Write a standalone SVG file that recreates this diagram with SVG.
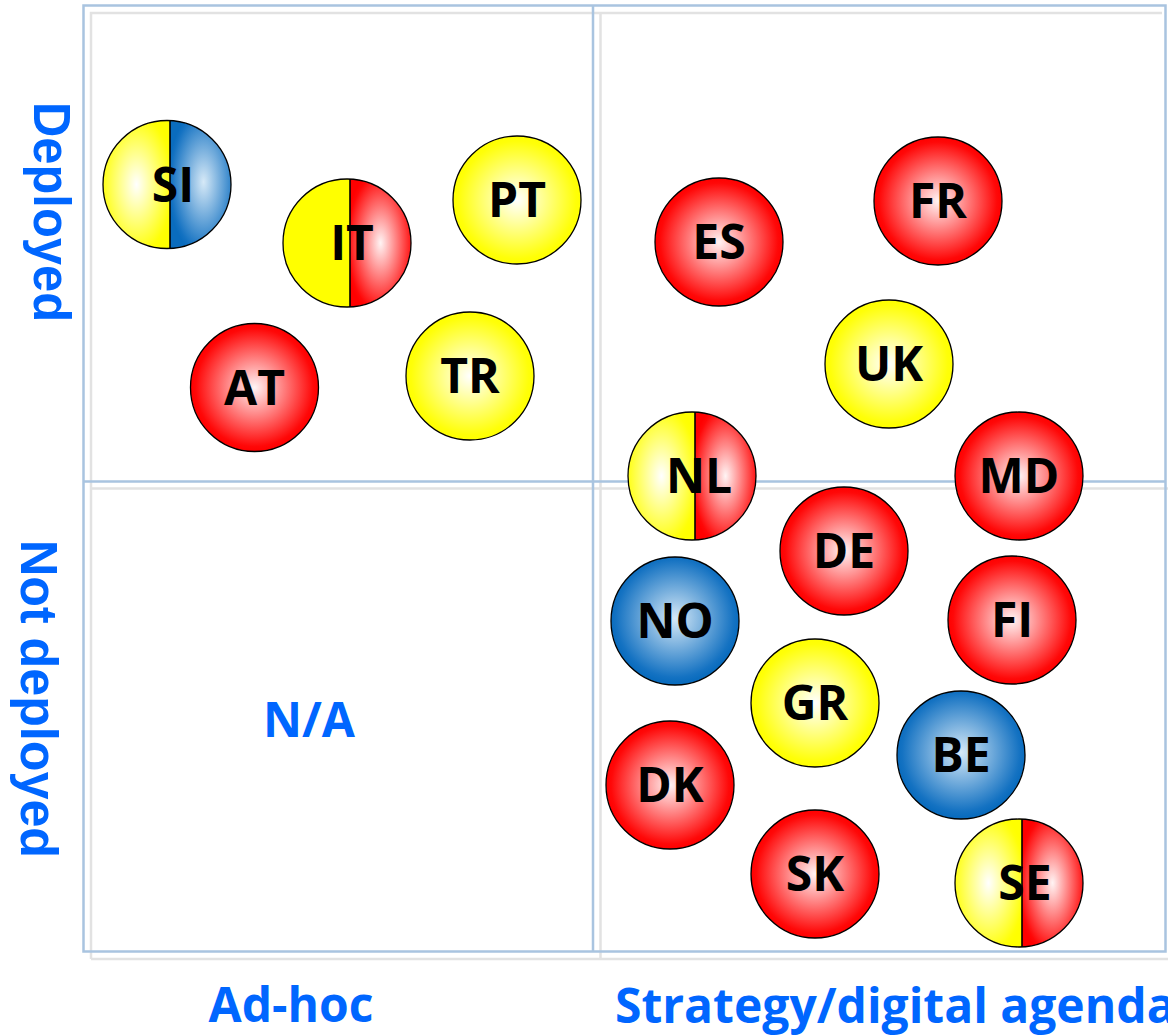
<svg xmlns="http://www.w3.org/2000/svg" width="1168" height="1036" viewBox="0 0 1168 1036">
  <style>
    .frame { fill: none; stroke: #a9c4e0; stroke-width: 2.5; }
    .shadow { fill: none; stroke: #e2e2e2; stroke-width: 2.5; }
    .ring { fill: none; stroke: #000; stroke-width: 1.3; }
    .disc { stroke: #000; stroke-width: 1.3; }
    .r { fill: url(#red); }
    .y { fill: url(#yellow); }
    .b { fill: url(#blue); }
    .split { stroke: #000; stroke-width: 1.6; }
    .code { font-family: "Open Sans", "Liberation Sans", sans-serif; font-weight: 700; font-size: 48px; fill: #000; text-anchor: middle; }
    .axis { font-family: "Open Sans", "Liberation Sans", sans-serif; font-weight: 700; font-size: 48px; fill: #0066ff; }
    .side { font-family: "Liberation Sans", Arial, sans-serif; font-weight: 700; font-size: 52px; fill: #0066ff; text-anchor: middle; }
  </style>
  <defs>
    <radialGradient id="red" cx="0.5" cy="0.5" r="0.5">
      <stop offset="0" stop-color="#fff4f4"/>
      <stop offset="0.92" stop-color="#ff0808"/>
      <stop offset="1" stop-color="#ff0000"/>
    </radialGradient>
    <radialGradient id="yellow" cx="0.5" cy="0.5" r="0.5">
      <stop offset="0" stop-color="#ffffff"/>
      <stop offset="0.92" stop-color="#ffff08"/>
      <stop offset="1" stop-color="#ffff00"/>
    </radialGradient>
    <radialGradient id="blue" cx="0.5" cy="0.48" r="0.5">
      <stop offset="0" stop-color="#d6e9f7"/>
      <stop offset="0.92" stop-color="#1472c2"/>
      <stop offset="1" stop-color="#0a6cbe"/>
    </radialGradient>
    <!-- half-disc shading: a little wider so the narrow halves keep a soft highlight -->
    <radialGradient id="redHalf" href="#red" cx="0.5" cy="0.5" r="0.58"/>
    <radialGradient id="yellowHalf" href="#yellow" cx="0.5" cy="0.5" r="0.58"/>
    <radialGradient id="blueHalf" href="#blue" cx="0.55" cy="0.48" r="0.58"/>
  </defs>

  <rect width="1168" height="1036" fill="#fff"/>

  <!-- quadrant grid: soft grey offset copy under the blue frame -->
  <g id="grid">
    <path class="shadow" d="M91,959 V13 H1162 M91,959 H1168 M600.5,13 V959 M91,488.5 H1168"/>
    <path class="frame" d="M83.5,5.5 H1165.5 V951.5 H83.5 Z M593,5.5 V951.5 M83.5,481.5 H1165.5"/>
  </g>

  <!-- axis labels -->
  <g id="labels">
    <text class="side" transform="translate(34,212) rotate(90)" textLength="220" lengthAdjust="spacingAndGlyphs">Deployed</text>
    <text class="side" transform="translate(21,699) rotate(90)" textLength="318" lengthAdjust="spacingAndGlyphs">Not deployed</text>
    <text class="axis" x="291" y="1022" text-anchor="middle">Ad-hoc</text>
    <text class="axis" x="615" y="1023">Strategy/digital agenda</text>
    <text class="axis" x="309" y="737" text-anchor="middle">N/A</text>
  </g>

  <!-- split nodes: two colours either side of a divider -->
  <g id="node-SI">
    <path d="M170,248.43 A64,64 0 1 1 170,120.57 Z" fill="url(#yellowHalf)"/>
    <path d="M170,120.57 A64,64 0 0 1 170,248.43 Z" fill="url(#blueHalf)"/>
    <line class="split" x1="170" y1="120.57" x2="170" y2="248.43"/>
    <circle class="ring" cx="167" cy="184.5" r="64"/>
    <text class="code" x="173" y="201.5">SI</text>
  </g>
  <g id="node-IT">
    <path d="M350,306.93 A64,64 0 1 1 350,179.07 Z" fill="#ffff00"/>
    <path d="M350,179.07 A64,64 0 0 1 350,306.93 Z" fill="url(#redHalf)"/>
    <line class="split" x1="350" y1="179.07" x2="350" y2="306.93"/>
    <circle class="ring" cx="347" cy="243" r="64"/>
    <text class="code" x="352" y="260">IT</text>
  </g>
  <g id="node-NL">
    <path d="M695,539.93 A64,64 0 1 1 695,412.07 Z" fill="url(#yellowHalf)"/>
    <path d="M695,412.07 A64,64 0 0 1 695,539.93 Z" fill="url(#redHalf)"/>
    <line class="split" x1="695" y1="412.07" x2="695" y2="539.93"/>
    <circle class="ring" cx="692" cy="476" r="64"/>
    <text class="code" x="699" y="493">NL</text>
  </g>
  <g id="node-SE">
    <path d="M1022,946.93 A64,64 0 1 1 1022,819.07 Z" fill="url(#yellowHalf)"/>
    <path d="M1022,819.07 A64,64 0 0 1 1022,946.93 Z" fill="url(#redHalf)"/>
    <line class="split" x1="1022" y1="819.07" x2="1022" y2="946.93"/>
    <circle class="ring" cx="1019" cy="883" r="64"/>
    <text class="code" x="1025" y="900">SE</text>
  </g>

  <!-- single-colour nodes -->
  <g id="node-PT"><circle class="disc y" cx="517" cy="200" r="64"/><text class="code" x="517" y="217">PT</text></g>
  <g id="node-AT"><circle class="disc r" cx="254.5" cy="387.5" r="64"/><text class="code" x="254.5" y="404.5">AT</text></g>
  <g id="node-TR"><circle class="disc y" cx="470" cy="376" r="64"/><text class="code" x="470" y="393">TR</text></g>
  <g id="node-ES"><circle class="disc r" cx="719" cy="242" r="64"/><text class="code" x="719" y="259">ES</text></g>
  <g id="node-FR"><circle class="disc r" cx="938" cy="201" r="64"/><text class="code" x="938" y="218">FR</text></g>
  <g id="node-UK"><circle class="disc y" cx="889" cy="364" r="64"/><text class="code" x="889" y="381">UK</text></g>
  <g id="node-MD"><circle class="disc r" cx="1019" cy="476" r="64"/><text class="code" x="1019" y="493">MD</text></g>
  <g id="node-DE"><circle class="disc r" cx="844" cy="551" r="64"/><text class="code" x="844" y="568">DE</text></g>
  <g id="node-NO"><circle class="disc b" cx="675" cy="621" r="64"/><text class="code" x="675" y="638">NO</text></g>
  <g id="node-FI"><circle class="disc r" cx="1012" cy="620" r="64"/><text class="code" x="1012" y="637">FI</text></g>
  <g id="node-GR"><circle class="disc y" cx="815" cy="703" r="64"/><text class="code" x="815" y="720">GR</text></g>
  <g id="node-BE"><circle class="disc b" cx="961" cy="755" r="64"/><text class="code" x="961" y="772">BE</text></g>
  <g id="node-DK"><circle class="disc r" cx="670" cy="785" r="64"/><text class="code" x="670" y="802">DK</text></g>
  <g id="node-SK"><circle class="disc r" cx="815" cy="874" r="64"/><text class="code" x="815" y="891">SK</text></g>
</svg>
